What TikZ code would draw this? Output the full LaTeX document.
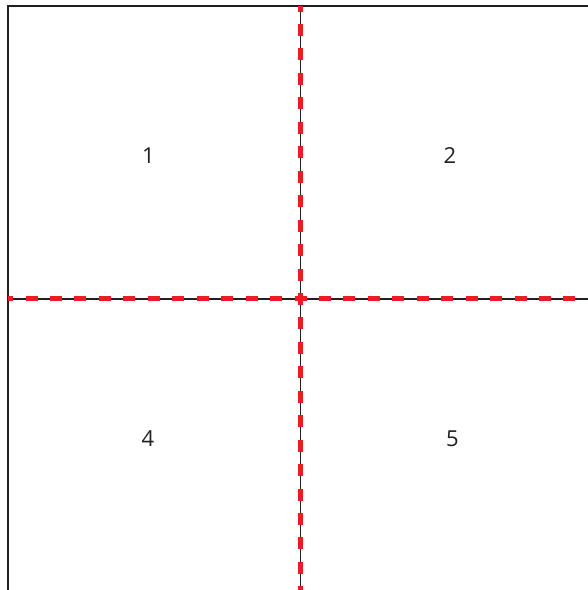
\documentclass[tikz,border=0pt]{standalone}
\usepackage{fontspec}
\setmainfont{Open Sans}
\usepackage{xcolor}
\usepackage{tikz}
\usetikzlibrary{positioning}
\definecolor{cutred}{RGB}{237, 28, 36}
\definecolor{inkblack}{RGB}{35, 31, 32}

\begin{document}
\begin{tikzpicture}[x=1pt, y=1pt,
    frameline/.style={inkblack, line width=2.3pt},
    axisline/.style={inkblack, line width=1.2pt},
    cutline/.style={cutred, line width=5pt, dash pattern=on 12pt off 12.45pt, dash phase=6pt},
    celllabel/.style={font=\fontsize{22}{26}\selectfont, text=inkblack}]
\useasboundingbox (0,0) rectangle (588,590);

% Corners and centre
\coordinate (mid) at (300.5,291);
\coordinate (topL) at (8,584.3);
\coordinate (topR) at (588,584.3);
\coordinate (botL) at (8,0);
\coordinate (midT) at (300.5,584.3);
\coordinate (midB) at (300.5,0);
\coordinate (midL) at (8,291);
\coordinate (midR) at (588,291);

% Frame
\draw[frameline] (botL) -- (topL) -- (topR);

% Centre lines
\draw[axisline] (midT) -- (midB);
\draw[axisline] (midL) -- (midR);

% Red cut lines, dashed outward from the centre
\foreach \e in {midT, midB, midL, midR} {
    \draw[cutline] (mid) -- (\e);
}

% Cell numbers
\foreach \n/\x/\y in {1/148.5/434, 2/450/434, 4/148/151, 5/452.5/151} {
    \node[celllabel] (cell\n) at (\x,\y) {\n};
}
\end{tikzpicture}
\end{document}
